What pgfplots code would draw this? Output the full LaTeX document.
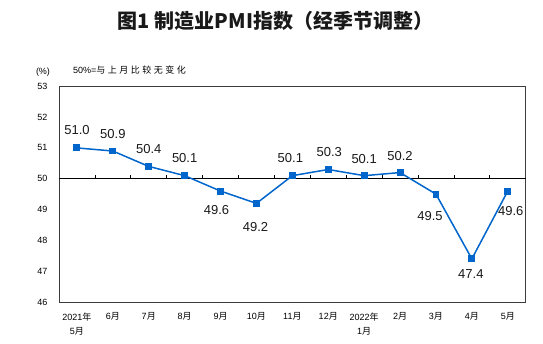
\documentclass[border=0pt]{standalone}
\usepackage{fontspec}
\usepackage{pgfplots}
\usepackage{pgfplotstable}
\pgfplotsset{compat=1.18}
\setmainfont{Liberation Sans}
\newfontfamily\cjk{Noto Sans CJK SC}
\definecolor{linec}{RGB}{0,102,204}
\definecolor{boxc}{RGB}{60,60,60}
\newcommand{\yue}{{\cjk 月}}
\newcommand{\nian}{{\cjk 年}}
\pgfplotstableread{
x y dx dy
0 51.0 0 17.5
1 50.9 0 17
2 50.4 0 17
3 50.1 0 18
4 49.6 -4 -19
5 49.2 -1 -24
6 50.1 -2 18
7 50.3 1 17
8 50.1 0 17
9 50.2 0 17
10 49.5 -6 -22
11 47.4 -1 -15
12 49.6 3 -20
}\pmidata
\begin{document}
\begin{tikzpicture}
\path[use as bounding box] (-59pt,-42pt) rectangle (484pt,302pt);
\begin{axis}[
  scale only axis,
  width=466.7pt, height=215.7pt,
  xmin=-0.5, xmax=12.5, ymin=46, ymax=53,
  xtick={0,...,12},
  xticklabels={{2021\nian\\5\yue},6\yue,7\yue,8\yue,9\yue,10\yue,11\yue,12\yue,{2022\nian\\1\yue},2\yue,3\yue,4\yue,5\yue},
  ytick={46,...,53},
  major tick length=0pt,
  axis line style={color=boxc, line width=0.8pt},
  tick label style={font=\fontsize{9}{14}\selectfont, text=black},
  xticklabel style={align=center, yshift=-7pt},
  yticklabel style={xshift=-8pt},
  /pgf/number format/assume math mode=true,
  clip=false,
]
\draw[black, line width=0.8pt] (axis cs:-0.5,50) -- (axis cs:12.5,50);
\pgfplotsinvokeforeach{0.5,1.5,2.5,3.5,4.5,5.5,6.5,7.5,8.5,9.5,10.5,11.5}{
  \draw[black, line width=0.7pt] (axis cs:#1,50) -- ++(0pt,3.5pt);
}
\addplot[color=linec, line width=1.5pt, mark=square*, mark size=2.7pt,
  mark options={solid, fill=linec},
  visualization depends on={\thisrow{dx} \as \dx},
  visualization depends on={\thisrow{dy} \as \dy},
  nodes near coords={\pgfmathprintnumber[fixed,fixed zerofill,precision=1,assume math mode=true]{\pgfplotspointmeta}},
  every node near coord/.append style={anchor=center, inner sep=0pt, xshift=\dx pt, yshift=\dy pt, font=\fontsize{13}{13}\selectfont, text=black!90},
] table[x=x, y=y] {\pmidata};
\end{axis}
\node[font=\fontsize{20}{20}\selectfont\cjk\bfseries, text=black!90] at (216.5pt,281pt) {图1 制造业PMI指数（经季节调整）};
\node[font=\fontsize{9}{9}\selectfont, text=black] at (-16pt,230pt) {(\%)};
\node[anchor=west, inner sep=0pt, font=\fontsize{9}{9}\selectfont, text=black] at (14pt,232pt) {50\%=\cjk 与\hspace{2.5pt}上\hspace{2.5pt}月\hspace{2.5pt}比\hspace{2.5pt}较\hspace{2.5pt}无\hspace{2.5pt}变\hspace{2.5pt}化};
\end{tikzpicture}
\end{document}
